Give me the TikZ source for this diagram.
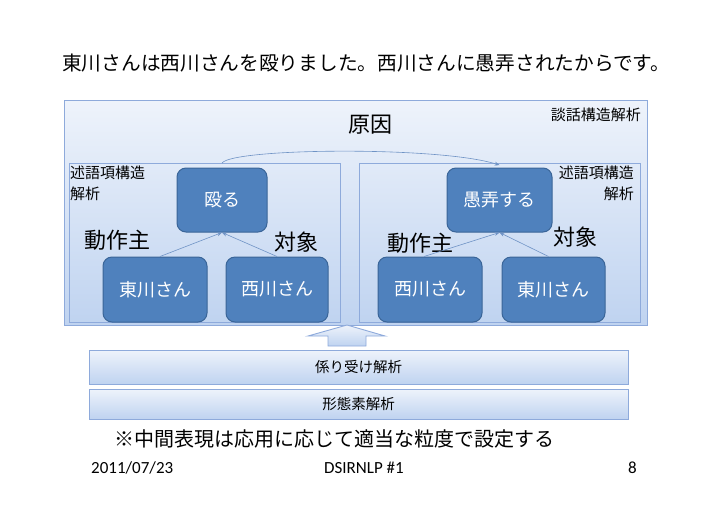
\documentclass[tikz,border=0pt]{standalone}
\usepackage{fontspec}
\setmainfont{Carlito}
\newfontfamily\jp{Noto Sans CJK JP}
\usetikzlibrary{arrows.meta, positioning, calc}
\definecolor{nodeblue}{HTML}{4F81BD}
\definecolor{nodeedge}{HTML}{3A6598}
\definecolor{paleblue}{HTML}{EEF3FB}
\definecolor{midblue}{HTML}{BFD3F0}
\definecolor{frameblue}{HTML}{8EAADB}
\definecolor{linkblue}{HTML}{6F93C5}
\newcommand{\jsize}[1]{\fontsize{#1}{#1}\selectfont\jp}
\newcommand{\jline}[2]{\fontsize{#1}{#2}\selectfont\jp}

\begin{document}
\begin{tikzpicture}[x=1pt, y=-1pt, >={Stealth[length=5pt, width=4pt]},
      word/.style={rounded corners=9pt, fill=nodeblue, draw=nodeedge,
        line width=1pt, text=white, font=\jsize{18}, inner sep=0pt,
        minimum height=64pt},
      layer/.style={draw=frameblue, line width=0.9pt, top color=paleblue,
        bottom color=midblue, inner sep=0pt},
      frame/.style={draw=frameblue, line width=0.8pt, inner sep=0pt},
      role/.style={font=\jsize{22}},
      note/.style={font=\jsize{15}, inner sep=0pt}]
    \useasboundingbox (0,0) rectangle (728,515);

    \node[anchor=west, font=\jsize{19.7}, inner sep=0pt] (title) at (62,63)
      {東川さんは西川さんを殴りました。西川さんに愚弄されたからです。};

    % discourse layer
    \node[layer, minimum width=583pt, minimum height=225pt] (disc)
      at (355.5,212.5) {};
    \node[note, anchor=east] (disclab) at (641,115) {談話構造解析};
    \node[role] (cause) at (370,125) {原因};
    \node[frame, minimum width=271pt, minimum height=159pt] (lbox)
      at (204.5,243) {};
    \node[frame, minimum width=281pt, minimum height=159pt] (rbox)
      at (499.5,243) {};
    \node[note, anchor=north west, align=left, font=\jline{15}{21}]
      (llab) at (70,166) {述語項構造\\解析};
    \node[note, anchor=north east, align=right, font=\jline{15}{21}]
      (rlab) at (634,166) {述語項構造\\解析};

    % predicate-argument trees
    \node[word, minimum width=90pt] (nag) at (222,200) {殴る};
    \node[word, minimum width=105pt] (gur) at (499.5,200) {愚弄する};
    \node[word, minimum width=104pt, minimum height=65pt] (hl) at (155,289.5) {東川さん};
    \node[word, minimum width=102pt, minimum height=65pt] (nl) at (277,289.5) {西川さん};
    \node[word, minimum width=104pt, minimum height=65pt] (nr) at (430,289.5) {西川さん};
    \node[word, minimum width=103pt, minimum height=65pt] (hr) at (553.5,289.5) {東川さん};
    \node[role] (agl) at (117,240) {動作主};
    \node[role] (pal) at (296,242) {対象};
    \node[role] (agr) at (420,243) {動作主};
    \node[role] (par) at (575,237) {対象};
    \draw[->, linkblue, line width=0.6pt] ([xshift=5pt]hl.north) -- (nag.south);
    \draw[->, linkblue, line width=0.6pt] (nl.north) -- (nag.south);
    \draw[->, linkblue, line width=0.6pt] ([xshift=-6pt]nr.north) -- (gur.south);
    \draw[->, linkblue, line width=0.6pt] ([xshift=-5pt]hr.north) -- (gur.south);

    \coordinate (cs) at (nag |- lbox.north);
    \coordinate (ce) at ([yshift=-2pt]gur |- rbox.north);
    \draw[->, linkblue, line width=0.6pt] (cs) .. controls (232,148) and (440,146) .. (ce);

    % block arrow
    \draw[layer] (347,325) -- (385,336) -- (366,336) -- (366,346)
      -- (328,346) -- (328,336) -- (308,336) -- cycle;

    \node[layer, minimum width=539pt, minimum height=34pt, font=\jsize{14.5}]
      (dep) at (358.5,367) {係り受け解析};
    \node[layer, minimum width=539pt, minimum height=30pt, font=\jsize{14.5}]
      (morph) at (358.5,404) {形態素解析};

    \node[anchor=west, font=\jsize{20}, inner sep=0pt] (remark) at (114,439)
      {※中間表現は応用に応じて適当な粒度で設定する};

    \node[anchor=west, font=\fontsize{17}{17}\selectfont, inner sep=0pt] (date) at (91,468) {2011/07/23};
    \node[font=\fontsize{17}{17}\selectfont, inner sep=0pt] (event) at (364,468) {DSIRNLP \#1};
    \node[anchor=east, font=\fontsize{17}{17}\selectfont, inner sep=0pt] (page) at (637,468) {8};
  \end{tikzpicture}
\end{document}
